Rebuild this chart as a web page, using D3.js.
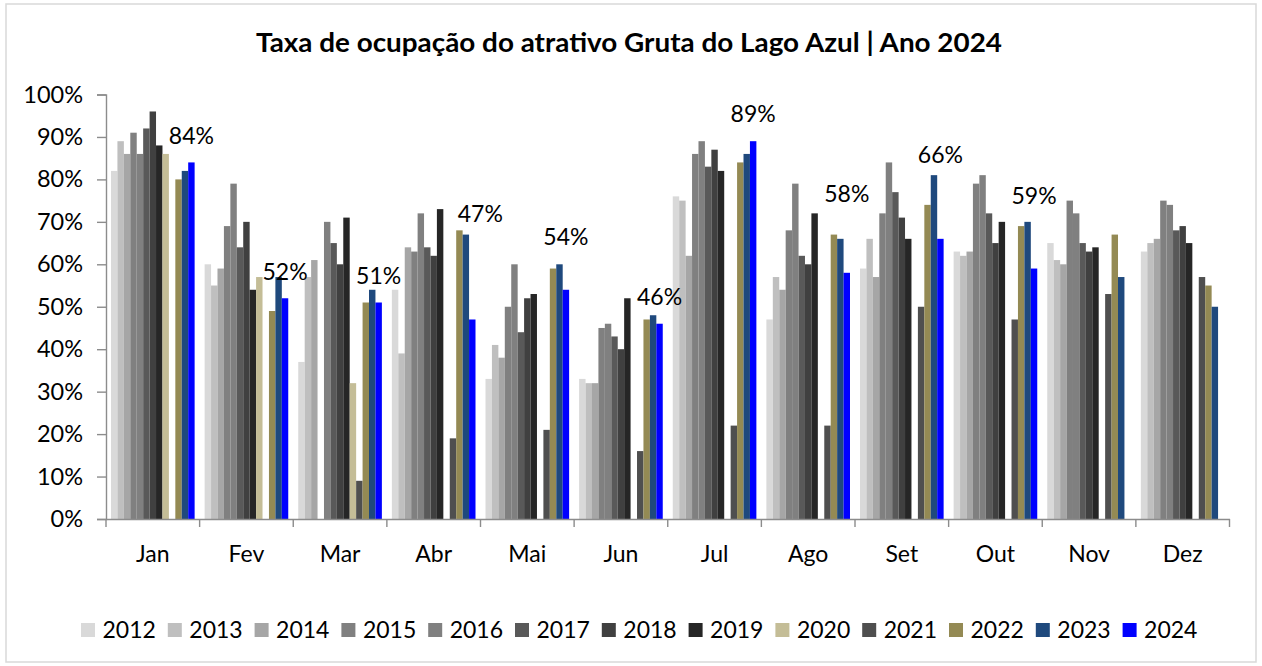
<!DOCTYPE html>
<html>
<head>
<meta charset="utf-8">
<script src="https://cdn.jsdelivr.net/npm/d3@7"></script>
<style>
  html, body { margin: 0; padding: 0; background: #ffffff; }
  svg { display: block; font-family: Lato, "Open Sans", sans-serif; }
</style>
</head>
<body>
<svg id="chart" width="1262" height="666"></svg>
<script>
const title = "Taxa de ocupação do atrativo Gruta do Lago Azul | Ano 2024";
const months = ["Jan","Fev","Mar","Abr","Mai","Jun","Jul","Ago","Set","Out","Nov","Dez"];
const years = ["2012","2013","2014","2015","2016","2017","2018","2019","2020","2021","2022","2023","2024"];
const yTicks = [0, 0.1, 0.2, 0.3, 0.4, 0.5, 0.6, 0.7, 0.8, 0.9, 1.0];

// occupancy (%) per year, Jan..Dez (null = no bar)
const v2012 = [82, 60, 37, 54, 33, 33, 76, 47, 59, 63, 65, 63];
const v2013 = [89, 55, 57, 39, 41, 32, 75, 57, 66, 62, 61, 65];
const v2014 = [86, 59, 61, 64, 38, 32, 62, 54, 57, 63, 60, 66];
const v2015 = [91, 69, null, 63, 50, 45, 86, 68, 72, 79, 75, 75];
const v2016 = [86, 79, 70, 72, 60, 46, 89, 79, 84, 81, 72, 74];
const v2017 = [92, 64, 65, 64, 44, 43, 83, 62, 77, 72, 65, 68];
const v2018 = [96, 70, 60, 62, 52, 40, 87, 60, 71, 65, 63, 69];
const v2019 = [88, 54, 71, 73, 53, 52, 82, 72, 66, 70, 64, 65];
const v2020 = [86, 57, 32, null, null, null, null, null, null, null, null, null];
const v2021 = [null, null, 9, 19, 21, 16, 22, 22, 50, 47, 53, 57];
const v2022 = [80, 49, 51, 68, 59, 47, 84, 67, 74, 69, 67, 55];
const v2023 = [82, 57, 54, 67, 60, 48, 86, 66, 81, 70, 57, 50];
const v2024 = [84, 52, 51, 47, 54, 46, 89, 58, 66, 59, null, null];

// lift of each 2024 data label above its bar, in percentage points (as placed in the original)
const labelLift = [4.4, 4.4, 4.4, 23, 10.5, 4.3, 4.6, 16.7, 17.9, 15.1, null, null];

const seriesValues = [v2012, v2013, v2014, v2015, v2016, v2017, v2018, v2019, v2020, v2021, v2022, v2023, v2024];
const colors = ["#d9d9d9","#bfbfbf","#a6a6a6","#808080","#808080","#595959","#404040","#262626","#c4bd97","#4f4f4f","#948a54","#1f497d","#0000ff"];
const labelYear = "2024";

const svg = d3.select("#chart");
const plot = { left: 106, right: 1229.5, top: 94.5, bottom: 519 };

// outer border
svg.append("rect").attr("x", 6).attr("y", 4).attr("width", 1250).attr("height", 658)
  .attr("fill", "#fff").attr("stroke", "#d9d9d9").attr("stroke-width", 1.5);

// title
svg.append("text").attr("x", 629).attr("y", 52).attr("text-anchor", "middle")
  .attr("font-size", 26.5).attr("font-weight", "bold").attr("fill", "#000")
  .attr("textLength", 746).attr("lengthAdjust", "spacingAndGlyphs").text(title);

const x0 = d3.scaleBand().domain(months).range([plot.left, plot.right]).paddingInner(0).paddingOuter(0);
const pad = 5;
const x1 = d3.scaleBand().domain(years).range([pad, x0.bandwidth() - pad]).padding(0);
const y = d3.scaleLinear().domain([0, 1]).range([plot.bottom, plot.top]);

// bars
const data = [];
years.forEach((yr, si) => {
  months.forEach((m, mi) => {
    const v = seriesValues[si][mi];
    if (v !== null && v !== undefined) data.push({ year: yr, month: m, mi: mi, value: v / 100, color: colors[si] });
  });
});

svg.append("g").selectAll("rect").data(data).join("rect")
  .attr("x", d => x0(d.month) + x1(d.year))
  .attr("y", d => y(d.value))
  .attr("width", x1.bandwidth())
  .attr("height", d => y(0) - y(d.value))
  .attr("fill", d => d.color);

// y axis
const axisColor = "#8c8c8c";
const yAxis = d3.axisLeft(y).tickValues(yTicks).tickFormat(d3.format(".0%")).tickSize(9).tickPadding(14);
const gy = svg.append("g").attr("transform", `translate(${plot.left},0)`).call(yAxis);
gy.select(".domain").attr("stroke", axisColor).attr("stroke-width", 1.4);
gy.selectAll(".tick line").attr("stroke", axisColor).attr("stroke-width", 1.4);
gy.selectAll(".tick text").attr("font-size", 23.5).attr("font-family", "Lato, 'Open Sans', sans-serif")
  .attr("fill", "#000");

// x axis
const xAxis = d3.axisBottom(x0).tickSize(0).tickPadding(0);
const gx = svg.append("g").attr("transform", `translate(0,${plot.bottom})`).call(xAxis);
gx.select(".domain").attr("stroke", axisColor).attr("stroke-width", 1.4);
gx.selectAll(".tick text").attr("font-size", 23).attr("font-family", "Lato, 'Open Sans', sans-serif")
  .attr("fill", "#000").attr("dy", 0).attr("y", 42.5);
// category boundary ticks
const bounds = months.map(m => x0(m)).concat([plot.right]);
gx.append("g").selectAll("line").data(bounds).join("line")
  .attr("x1", d => d).attr("x2", d => d).attr("y1", 0).attr("y2", 8)
  .attr("stroke", axisColor).attr("stroke-width", 1.4);

// data labels for 2024
const labelData = data.filter(d => d.year === labelYear);
svg.append("g").selectAll("text").data(labelData).join("text")
  .attr("x", d => x0(d.month) + x1(d.year) + x1.bandwidth() / 2 + (d.month === "Abr" ? 8 : 0))
  .attr("y", d => y(d.value + labelLift[d.mi] / 100))
  .attr("text-anchor", "middle").attr("font-size", 23).attr("fill", "#000")
  .text(d => Math.round(d.value * 100) + "%");

// legend
const legendX0 = 81, legendStep = 86.8, legendY = 623;
const lg = svg.append("g");
years.forEach((yr, i) => {
  const gx0 = legendX0 + i * legendStep;
  lg.append("rect").attr("x", gx0).attr("y", legendY).attr("width", 14).attr("height", 14).attr("fill", colors[i]);
  lg.append("text").attr("x", gx0 + 21.5).attr("y", legendY + 14.5).attr("font-size", 23).attr("fill", "#000").text(yr);
});
</script>
</body>
</html>
